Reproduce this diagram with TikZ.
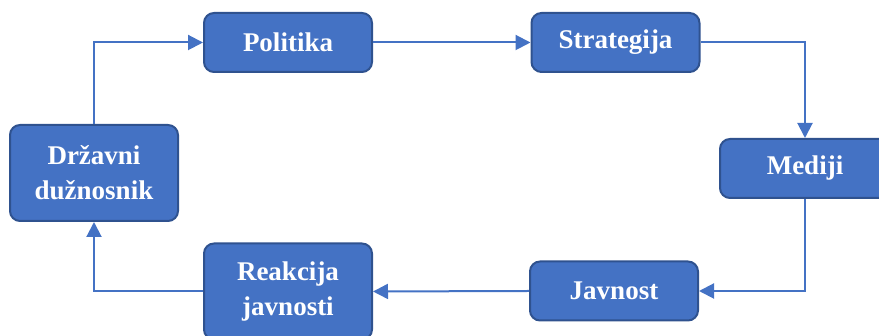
\documentclass[tikz,border=0pt]{standalone}
\usepackage{fontspec}
\setmainfont{Liberation Serif}
\usetikzlibrary{arrows.meta,positioning,calc}
\definecolor{boxblue}{HTML}{4472C4}
\definecolor{boxedge}{HTML}{2F528F}
\tikzset{
  basic/.style  = {draw=boxedge, line width=1pt, fill=boxblue, rectangle,
    rounded corners=5pt, text=white, align=center,
    font=\fontsize{13.5}{17.5}\selectfont\bfseries, inner sep=0pt},
  stage/.style  = {basic, minimum width=84pt, minimum height=29.5pt},
  stage2/.style = {basic, minimum width=84pt, minimum height=48pt},
  link/.style   = {->, draw=boxblue, line width=1pt}
}

\begin{document}
\begin{tikzpicture}[>={Triangle[length=7.5pt,width=7.5pt]}]
  \useasboundingbox (0,0) rectangle (439.5pt,168pt);

% upper row
  \node[stage] (politika) at (144pt,146.75pt) {Politika};
  \node[stage, right=78.75pt of politika] (strategija) {Strategija};

% right and left sides
  \node[stage, minimum width=85pt] (mediji) at (402.5pt,83.75pt) {Mediji};
  \node[stage2] (duznosnik) at (47pt,81.5pt) {Državni\\dužnosnik};

% lower row
  \node[stage2] (reakcija) at (144pt,22.25pt) {Reakcija\\javnosti};
  \node[stage] (javnost) at (307pt,22.5pt) {Javnost};

% connectors round the cycle
  \draw[link] (duznosnik.north) |- (politika.west);
  \draw[link] (politika.east) -- (strategija.west);
  \draw[link] (strategija.east) -| (mediji.north);
  \draw[link] (mediji.south) |- (javnost.east);
  \draw[link] (javnost.west) -- (reakcija.east);
  \draw[link] (reakcija.west) -| (duznosnik.south);
\end{tikzpicture}
\end{document}
